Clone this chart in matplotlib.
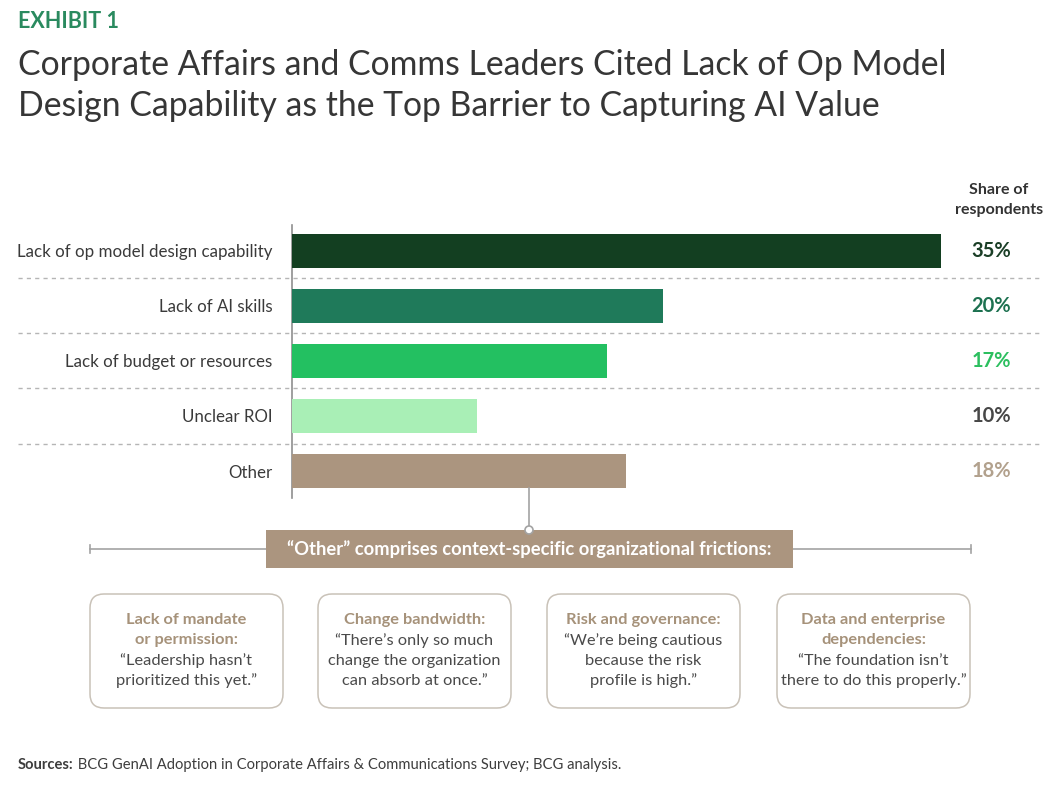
import matplotlib
matplotlib.use("Agg")
import matplotlib.pyplot as plt
from matplotlib.patches import FancyBboxPatch, Rectangle, Circle
from matplotlib.lines import Line2D
import matplotlib.transforms as mtransforms

# ---------------- data ----------------
categories = ["Lack of op model design capability", "Lack of AI skills",
              "Lack of budget or resources", "Unclear ROI", "Other"]
values = [35, 20, 17, 10, 18]
value_labels = ["35%", "20%", "17%", "10%", "18%"]
bar_colors = ["#133f21", "#1f7a5a", "#23c061", "#a9efb6", "#ab957f"]
label_colors = ["#1b3f27", "#1d7150", "#2cbf5f", "#474747", "#b2a18d"]

box_titles = [["Lack of mandate", "or permission:"],
              ["Change bandwidth:"],
              ["Risk and governance:"],
              ["Data and enterprise", "dependencies:"]]
box_quotes = [["\u201cLeadership hasn\u2019t", "prioritized this yet.\u201d"],
              ["\u201cThere\u2019s only so much", "change the organization", "can absorb at once.\u201d"],
              ["\u201cWe\u2019re being cautious", "because the risk", "profile is high.\u201d"],
              ["\u201cThe foundation isn\u2019t", "there to do this properly.\u201d"]]

title_lines = ["Corporate Affairs and Comms Leaders Cited Lack of Op Model",
               "Design Capability as the Top Barrier to Capturing AI Value"]
exhibit = "EXHIBIT 1"
banner_text = "\u201cOther\u201d comprises context-specific organizational frictions:"
source_bold = "Sources:"
source_text = " BCG GenAI Adoption in Corporate Affairs & Communications Survey; BCG analysis."

# ---------------- layout ----------------
W, H = 1056, 786
FONT = "Lato"
plt.rcParams["font.family"] = [FONT, "DejaVu Sans"]

fig = plt.figure(figsize=(W / 100, H / 100), dpi=100)
fig.patch.set_facecolor("white")

def fx(x):
    return x / W

def fy(y):
    return 1 - y / H

# title
fig.text(fx(18), fy(22), exhibit, color="#2a8a5f", fontsize=15.5, fontweight="bold",
         va="center", ha="left")
fig.text(fx(18), fy(65), title_lines[0], color="#363636", fontsize=24.3, fontweight="normal",
         va="center", ha="left")
fig.text(fx(18), fy(106), title_lines[1], color="#363636", fontsize=24.3, fontweight="normal",
         va="center", ha="left")

# main axes: x 0..35 -> px 292..941 ; y: px 225..498
ax_left, ax_right = 292, 941
ax_top, ax_bot = 225, 498
ax = fig.add_axes([fx(ax_left), fy(ax_bot), (ax_right - ax_left) / W, (ax_bot - ax_top) / H])
ax.set_xlim(0, 35)
n = len(categories)
ypos = list(range(n))
ax.set_ylim(n - 1 + 0.49, -0.47)
ax.barh(ypos, values, height=0.62, color=bar_colors, zorder=3)
for s in ["top", "right", "bottom"]:
    ax.spines[s].set_visible(False)
ax.spines["left"].set_color("#8f8f8f")
ax.spines["left"].set_linewidth(1.2)
ax.set_xticks([])
ax.set_yticks(ypos)
ax.set_yticklabels(categories, fontsize=12.2, color="#3a3a3a")
ax.tick_params(axis="y", length=0, pad=14)
ax.patch.set_alpha(0)

# dashed separators spanning from figure x 18 to 1042
trans = mtransforms.blended_transform_factory(fig.transFigure, ax.transData)
for i in range(n - 1):
    ax.add_line(Line2D([fx(18), fx(1042)], [i + 0.5, i + 0.5], transform=trans,
                       color="#b5b5b5", lw=1, ls=(0, (3, 3)), clip_on=False, zorder=1))

# value labels
for i, (lab, c) in enumerate(zip(value_labels, label_colors)):
    ax.text(fx(991), i, lab, transform=trans, color=c, fontsize=14.5, fontweight="bold",
            ha="center", va="center", clip_on=False)

fig.text(fx(999), fy(190), "Share of", fontsize=11.5, fontweight="bold", color="#333333",
         ha="center", va="center")
fig.text(fx(999), fy(210), "respondents", fontsize=11.5, fontweight="bold", color="#333333",
         ha="center", va="center")

# ---------------- lower panel ----------------
ov = fig.add_axes([0, 0, 1, 1])
ov.set_xlim(0, W)
ov.set_ylim(H, 0)
ov.axis("off")
ov.patch.set_alpha(0)

line_col = "#a3a3a3"
# connector from "Other" bar to banner
ov.plot([529, 529], [488, 530], color=line_col, lw=1.2, zorder=2)
# horizontal line with end ticks
ov.plot([90, 971], [549, 549], color=line_col, lw=1.2, zorder=1)
ov.plot([90, 90], [545, 553], color=line_col, lw=1.2)
ov.plot([971, 971], [545, 553], color=line_col, lw=1.2)
# banner
ov.add_patch(Rectangle((266, 530), 527, 38, facecolor="#ab957f", edgecolor="none", zorder=3))
ov.add_patch(Circle((529, 530), 4, facecolor="white", edgecolor=line_col, lw=1.2, zorder=4))
ov.text(529.5, 549, banner_text, color="white", fontsize=13.2, fontweight="bold",
        ha="center", va="center", zorder=5)

# boxes
box_x = [90, 318, 547, 777]
box_w = 193
box_top, box_bottom = 594, 708
line_step = 20.3
for bx, titles, quotes in zip(box_x, box_titles, box_quotes):
    ov.add_patch(FancyBboxPatch((bx, box_top), box_w, box_bottom - box_top,
                                boxstyle="round,pad=0,rounding_size=14",
                                facecolor="white", edgecolor="#c9c2b8", lw=1.1))
    cx = bx + box_w / 2
    y = 620
    for t in titles:
        ov.text(cx, y, t, color="#a6927a", fontsize=11.8, fontweight="bold",
                ha="center", va="center")
        y += line_step
    for q in quotes:
        ov.text(cx, y, q, color="#4a4a4a", fontsize=11.8, ha="center", va="center")
        y += line_step

# sources
t1 = fig.text(fx(18), fy(765), source_bold, fontsize=10.6, fontweight="bold",
              color="#3d3d3d", ha="left", va="center")
ov.annotate(source_text, xy=(1, 0), xycoords=t1, fontsize=10.6, color="#3d3d3d",
            ha="left", va="bottom")

fig.savefig("out.png", dpi=100, facecolor="white")
